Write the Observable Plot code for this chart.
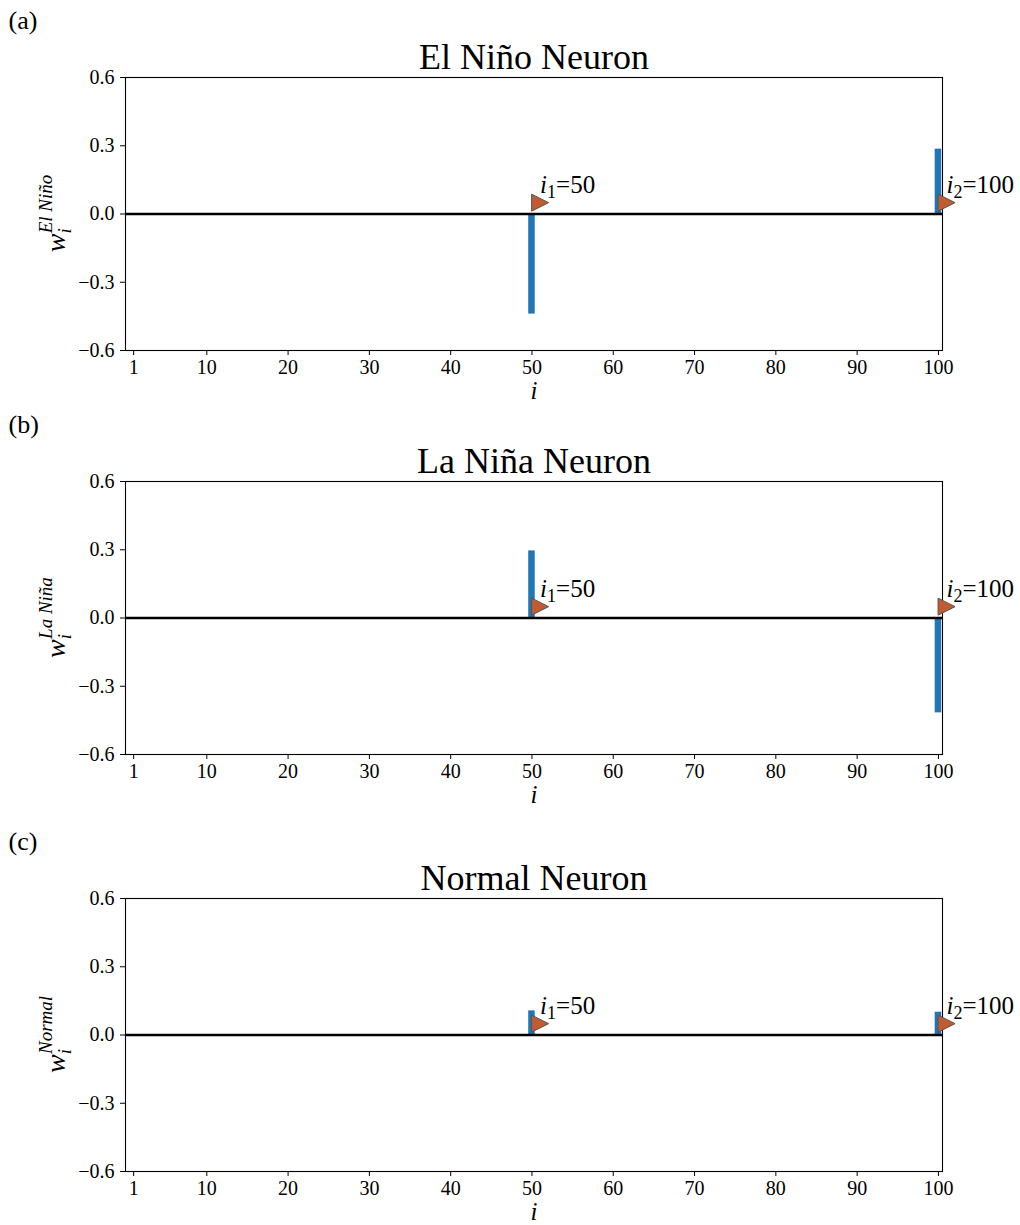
<!DOCTYPE html>
<html><head><meta charset="utf-8">
<script src="https://cdn.jsdelivr.net/npm/d3@7"></script>
<script src="https://cdn.jsdelivr.net/npm/@observablehq/plot@0.6"></script>
<style>
body{margin:0;background:#fff;}
#root{position:relative;width:1020px;height:1225px;font-family:"Liberation Serif",serif;}
#root svg{position:absolute;left:0;}
</style></head><body><div id="root"></div>
<script>
const panelLetters = ["(a)", "(b)", "(c)"];
const panelTitles = ["El Niño Neuron", "La Niña Neuron", "Normal Neuron"];
const yLabelSuper = ["El Niño", "La Niña", "Normal"];
const barIndex = [50, 100];
const elNinoWeights = [-0.44, 0.285];
const laNinaWeights = [0.295, -0.417];
const normalWeights = [0.106, 0.100];
const markerIndex = [51, 101];
const markerWeight = [0.05, 0.05];
const markerLabels = ["i₁=50", "i₂=100"];
const xTicks = [1, 10, 20, 30, 40, 50, 60, 70, 80, 90, 100];
const yTicks = [-0.6, -0.3, 0, 0.3, 0.6];
const panelWeights = [elNinoWeights, laNinaWeights, normalWeights];
const panelTops = [0, 404, 821];

const triRight = {draw(ctx, size) {
  const h = Math.sqrt(size / Math.PI);
  ctx.moveTo(h, 0); ctx.lineTo(-h, h); ctx.lineTo(-h, -h); ctx.closePath();
}};

const root = document.getElementById("root");
const H = 404, MT = 77, MB = 54, ML = 125, MR = 78;

panelWeights.forEach((weights, k) => {
  const bars = barIndex.map((i, j) => ({i, w: weights[j]}));
  const markers = markerIndex.map((i, j) => ({i, w: markerWeight[j], label: markerLabels[j]}));
  const svg = Plot.plot({
    width: 1020, height: H,
    marginLeft: ML, marginRight: MR, marginTop: MT, marginBottom: MB,
    style: {fontFamily: "'Liberation Serif', serif", fontSize: "20px", color: "black", background: "transparent", overflow: "visible"},
    x: {domain: [0, 100.5]},
    y: {domain: [-0.6, 0.6]},
    marks: [
      Plot.rect(bars, {x1: d => d.i - 0.4, x2: d => d.i + 0.4, y1: 0, y2: "w", fill: "#1f77b4"}),
      Plot.ruleY([0], {stroke: "black", strokeWidth: 2.5}),
      Plot.frame({stroke: "black", strokeWidth: 1.1}),
      Plot.axisX(xTicks, {tickSize: 5, tickPadding: 4, fontSize: 20, label: null}),
      Plot.axisY(yTicks, {tickSize: 5, tickPadding: 6, fontSize: 20, tickFormat: d3.format(".1f"), label: null}),
      Plot.dot(markers, {x: "i", y: "w", symbol: triRight, r: 8.5, fill: "#c15b32", stroke: "#555", strokeWidth: 1}),
      Plot.text(markers, {x: "i", y: "w", text: "label", dy: -10, textAnchor: "start", lineAnchor: "bottom", fontSize: 25}),
      Plot.text([panelTitles[k]], {text: d => d, frameAnchor: "top", lineAnchor: "middle", dy: -20, fontSize: 36}),
      Plot.text([panelLetters[k]], {text: d => d, frameAnchor: "top-left", lineAnchor: "middle", dx: -117, dy: -57, textAnchor: "start", fontSize: 26}),
      Plot.text(["i"], {text: d => d, frameAnchor: "bottom", lineAnchor: "middle", dy: 40, fontSize: 25, fontStyle: "italic"})
    ]
  });
  svg.style.top = panelTops[k] + "px";
  root.appendChild(svg);

  // rich text for marker labels: italic i with subscript
  d3.select(svg).selectAll("text").each(function() {
    const m = /^i([₁₂])=(\d+)$/.exec(this.textContent);
    if (!m) return;
    const sub = m[1] === "₁" ? "1" : "2";
    const t = d3.select(this);
    t.selectAll("*").remove();
    this.textContent = "";
    t.append("tspan").attr("font-style", "italic").text("i");
    t.append("tspan").attr("font-size", 18).attr("dy", 5).text(sub);
    t.append("tspan").attr("dy", -5).text("=" + m[2]);
  });

  // y label: w_i^{...}
  const midY = MT + (H - MT - MB) / 2;
  const yl = d3.select(svg).append("text")
    .attr("transform", `translate(65,${midY}) rotate(-90)`)
    .attr("text-anchor", "middle")
    .attr("font-size", 28).attr("font-style", "italic").attr("fill", "black");
  yl.append("tspan").text("w");
  yl.append("tspan").attr("font-size", 19).attr("dy", 6).text("i");
  yl.append("tspan").attr("font-size", 19).attr("dx", -5).attr("dy", -19).text(yLabelSuper[k]);
});
</script>
</body></html>
